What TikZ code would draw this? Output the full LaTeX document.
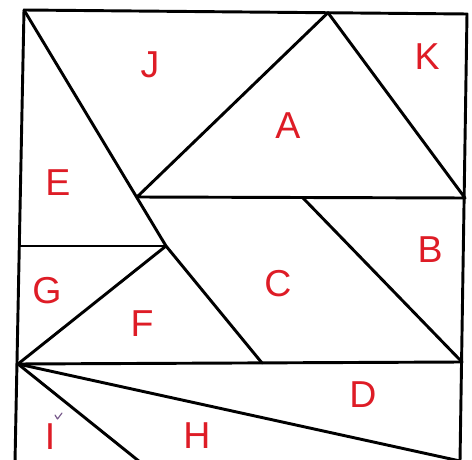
\documentclass[tikz,border=0pt]{standalone}
\usepackage{fontspec}
\setsansfont{Liberation Sans}
\usepackage{xcolor}
\usetikzlibrary{arrows.meta}

\definecolor{penred}{RGB}{222,28,38}
\definecolor{tickink}{RGB}{120,90,140}

\tikzset{
    edge/.style={line width=2.5pt, black},
    lbl/.style={text=penred, font=\sffamily\fontsize{32}{32}\selectfont, inner sep=0pt}
}

\begin{document}
\begin{tikzpicture}[>=Stealth, line cap=round, line join=round, x=0.03cm, y=-0.03cm]
    \useasboundingbox (0,0) rectangle (472,460);
    \fill[white] (0,0) rectangle (472,460);

    % Corners and crossing points
    \coordinate (tl) at (24,10);
    \coordinate (tr) at (467,14);
    \coordinate (apex) at (328,12.7);
    \coordinate (pA) at (137,197);
    \coordinate (rA) at (465,198);
    \coordinate (pB) at (303,198);
    \coordinate (rB) at (462,362);
    \coordinate (pG) at (166,246);
    \coordinate (lG) at (20,246);
    \coordinate (pC) at (262,363);
    \coordinate (lF) at (18,364);
    \coordinate (bl) at (15,462);
    \coordinate (bH) at (140,462);
    \coordinate (br) at (460,461);

    % Outline
    \draw[edge] (bl) -- (tl) -- (tr) -- (br);

    % Long diagonal from the top corner
    \draw[edge] (tl) -- (pG) -- (pC);

    % Triangle A
    \draw[edge] (pA) -- (apex) -- (rA) -- cycle;

    % Inner cuts
    \draw[edge] (pB) -- (rB);
    \draw[edge] (lG) -- (pG);
    \draw[edge] (lF) -- (pG);
    \draw[edge] (lF) -- (rB);

    % Fan from the left point
    \draw[edge] (lF) -- (br);
    \draw[edge] (lF) -- (bH);

    % Labels
    \foreach \x/\y/\t in {
        150/65/J,
        427/57/K,
        288/126/A,
        58/183/E,
        430/250/B,
        278/284/C,
        47/291/G,
        142/324/F,
        363/395/D,
        197/436/H
    }{
        \node[lbl] (\t) at (\x,\y) {\t};
    }
    \node[lbl] (I) at (50,437) {I};

    % small tick beside I
    \draw[tickink, line width=1pt] (55,415) -- (57.5,419) -- (62,413);

\end{tikzpicture}
\end{document}
